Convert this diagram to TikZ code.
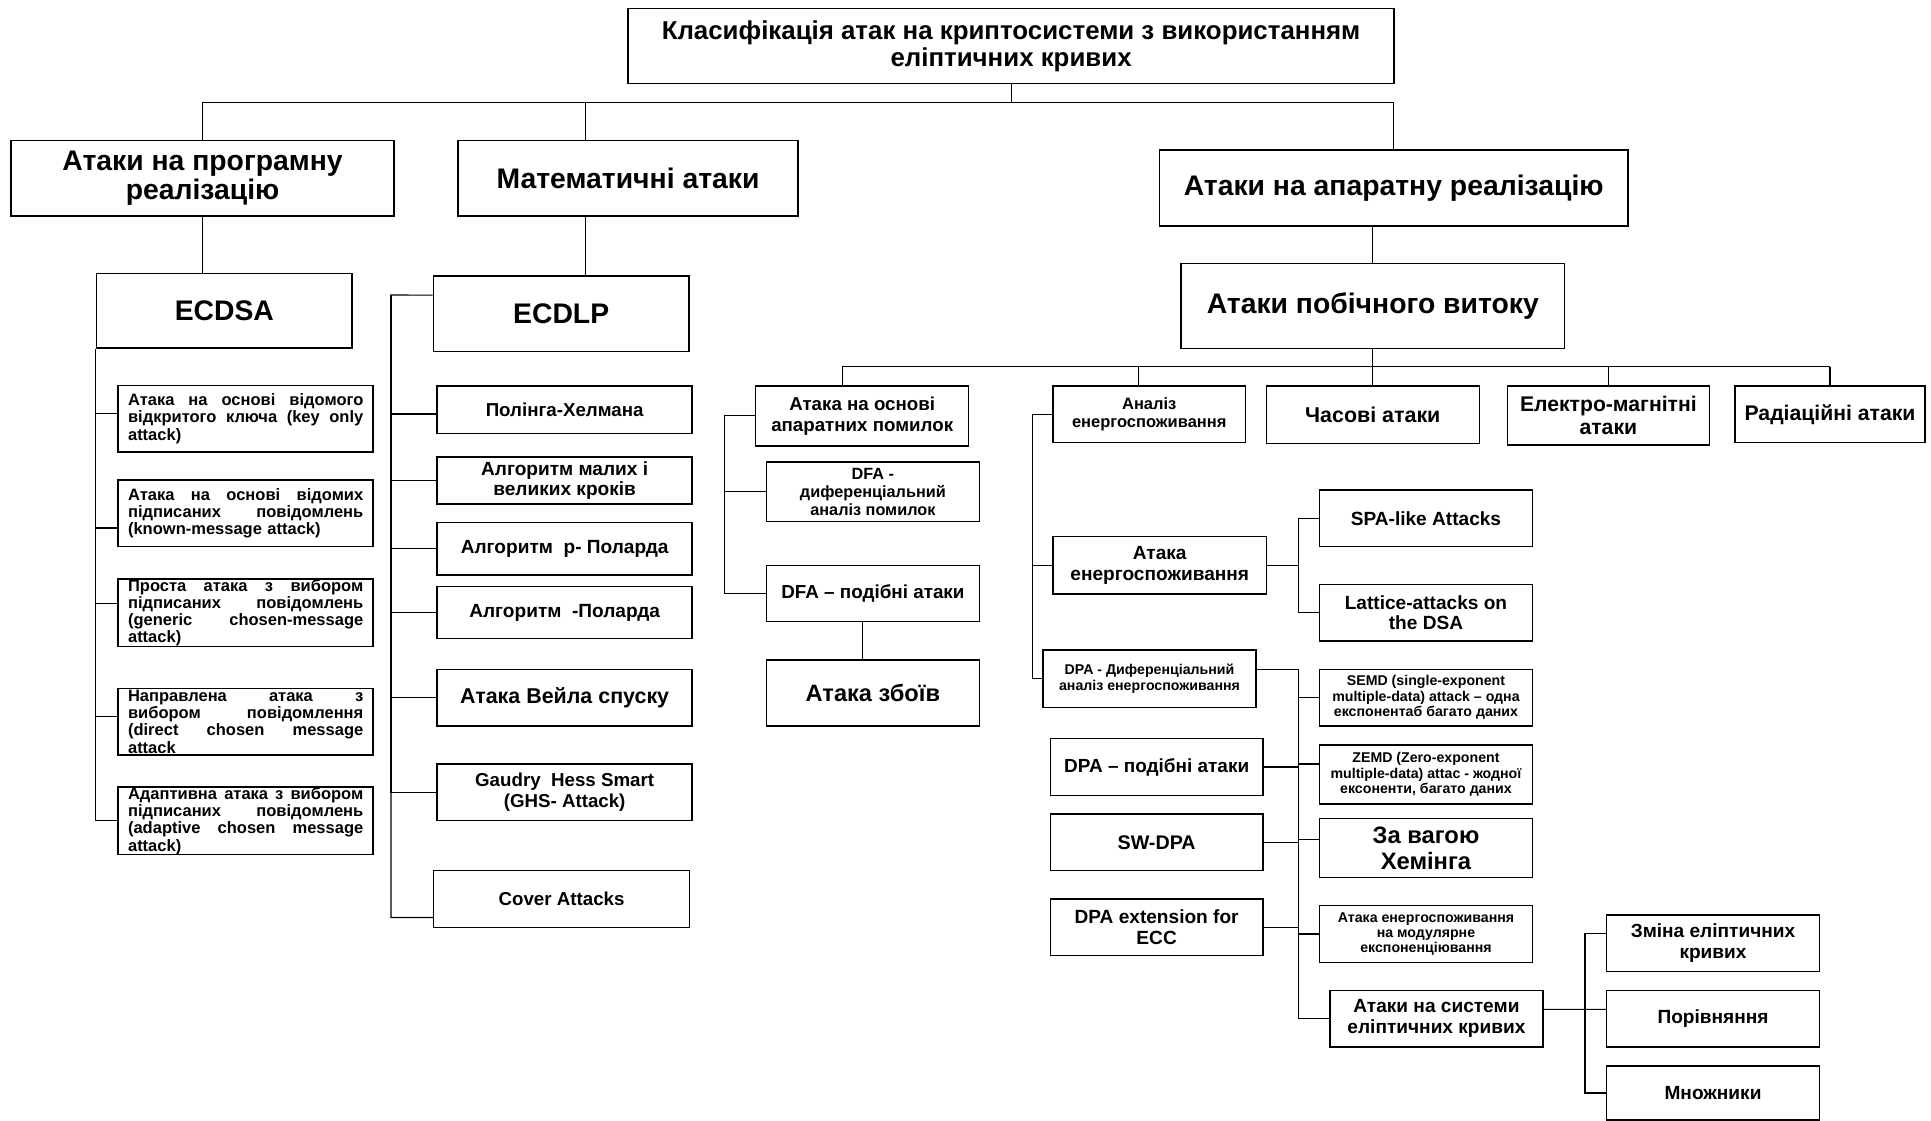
\documentclass[tikz,border=0pt]{standalone}
\usepackage{fontspec}
\setmainfont{Liberation Sans}
\newcommand{\fsz}[2]{\fontsize{#1}{#2}\selectfont\bfseries}
\newcommand{\jl}[1]{{\spaceskip=0pt\xspaceskip=0pt\makebox[191pt][s]{#1}}}

\begin{document}
\begin{tikzpicture}[x=1pt, y=-1pt,
  blk/.style={draw, line width=1.2pt, align=center, inner sep=2pt, font=\fsz{15.5}{17}},
  big/.style={blk, font=\fsz{23}{24}},
  sz/.style 2 args={minimum width=#1pt, minimum height=#2pt},
  jbox/.style={draw, line width=1.2pt, text width=191pt, align=left,
               inner xsep=8pt, inner ysep=0pt, sz={207}{54}, font=\fsz{13.4}{14}},
  link/.style={line width=0.9pt}]

  \useasboundingbox (0,0) rectangle (1568,910);

  %--- Top levels
  \node[blk, sz={622}{61}, font=\fsz{21}{22}] (cls) at (821,37.5)
    {Класифікація атак на криптосистеми з використанням\\еліптичних кривих};
  \node[big, sz={311}{61.5}] (soft) at (164.5,144.7) {Атаки на програмну\\реалізацію};
  \node[big, sz={276}{61.5}] (math) at (510,144.7) {Математичні атаки};
  \node[big, sz={380.5}{61.5}] (hard) at (1131.7,152.7) {Атаки на апаратну реалізацію};
  \node[big, sz={207.5}{60.5}] (ecdsa) at (182.2,252.2) {ECDSA};
  \node[big, sz={207.5}{61.5}] (ecdlp) at (455.7,254.7) {ECDLP};
  \node[big, sz={311.5}{69}] (side) at (1114.7,248.5) {Атаки побічного витоку};

  %--- ECDSA attacks
  \node[jbox] (k1) at (199.5,340)
    {\jl{Атака на основі відомого}\\\jl{відкритого ключа (key only}\\attack)};
  \node[jbox] (k2) at (199.5,416.7)
    {\jl{Атака на основі відомих}\\\jl{підписаних повідомлень}\\(known-message attack)};
  \node[jbox] (k3) at (199.5,497.5)
    {\jl{Проста атака з вибором}\\\jl{підписаних повідомлень}\\\jl{(generic chosen-message}\\attack)};
  \node[jbox] (k4) at (199.5,586)
    {\jl{Направлена атака з}\\\jl{вибором повідомлення}\\\jl{(direct chosen message}\\attack};
  \node[jbox, sz={207}{55}] (k5) at (199.5,666.5)
    {\jl{Адаптивна атака з вибором}\\\jl{підписаних повідомлень}\\\jl{(adaptive chosen message}\\attack)};

  %--- ECDLP attacks
  \node[blk, sz={207}{38.5}, font=\fsz{15.2}{17}] (m1) at (458.5,332.7) {Полінга-Хелмана};
  \node[blk, sz={207}{38.3}, font=\fsz{15.5}{16}] (m2) at (458.5,390.2) {Алгоритм малих і\\великих кроків};
  \node[blk, sz={207}{42.6}] (m3) at (458.5,445.7) {Алгоритм~~р- Поларда};
  \node[blk, sz={207}{42}] (m4) at (458.5,497.4) {Алгоритм~~-Поларда};
  \node[blk, sz={207}{46}, font=\fsz{17.4}{19}] (m5) at (458.5,566.5) {Атака Вейла спуску};
  \node[blk, sz={207}{46}, font=\fsz{15.2}{17}] (m6) at (458.5,643.4) {Gaudry~~Hess Smart\\(GHS- Attack)};
  \node[blk, sz={208}{46}, font=\fsz{15.2}{17}] (m7) at (456,730) {Cover Attacks};

  %--- Side channel row
  \node[blk, sz={173}{48.6}, font=\fsz{15.2}{17}] (f0) at (700.1,337.7) {Атака на основі\\апаратних помилок};
  \node[blk, sz={156}{46}, font=\fsz{13.4}{15}] (p0) at (933.2,336.5) {Аналіз\\енергоспоживання};
  \node[blk, sz={173}{46.5}, font=\fsz{17.4}{19}] (t) at (1114.7,336.7) {Часові атаки};
  \node[blk, sz={164}{48}, font=\fsz{17.2}{19}] (em) at (1306,337.5) {Електро-магнітні\\атаки};
  \node[blk, sz={154}{46}, font=\fsz{17.2}{19}] (rad) at (1486,336.5) {Радіаційні атаки};

  %--- Fault attacks
  \node[blk, sz={172.7}{48.6}, font=\fsz{13.2}{14.5}] (f1) at (708.8,399.3) {DFA -\\диференціальний\\аналіз помилок};
  \node[blk, sz={172.7}{45.5}, font=\fsz{15.3}{17}] (f2) at (708.8,482) {DFA – подібні атаки};
  \node[blk, sz={172.7}{53.5}, font=\fsz{19.2}{21}] (f3) at (708.8,562.7) {Атака збоїв};

  %--- Power analysis
  \node[blk, sz={173}{46.5}] (p1) at (941.7,459) {Атака\\енергоспоживання};
  \node[blk, sz={172.6}{46.6}, font=\fsz{11.5}{12.5}] (p2) at (933.4,551.1) {DPA - Диференціальний\\аналіз енергоспоживання};
  \node[blk, sz={173.2}{46}] (s1) at (1157.9,420.9) {SPA-like Attacks};
  \node[blk, sz={173.2}{46}] (s2) at (1157.9,497.5) {Lattice-attacks on\\the DSA};

  \node[blk, sz={172.5}{46}, font=\fsz{15.4}{17}] (q1) at (939.2,622.8) {DPA – подібні атаки};
  \node[blk, sz={172.5}{46}, font=\fsz{16}{17}] (q2) at (939.2,684) {SW-DPA};
  \node[blk, sz={172.5}{46}] (q3) at (939.2,753) {DPA extension for\\ECC};

  \node[blk, sz={173.2}{46}, font=\fsz{11.5}{12.5}] (d1) at (1157.9,566.5)
    {SEMD (single-exponent\\multiple-data) attack – одна\\експонентаб багато даних};
  \node[blk, sz={173.2}{48}, font=\fsz{11.5}{12.5}] (d2) at (1157.9,629)
    {ZEMD (Zero-exponent\\multiple-data) attac - жодної\\ексоненти, багато даних};
  \node[blk, sz={173.2}{48}, font=\fsz{19.3}{21}] (d3) at (1157.9,688.5) {За вагою\\Хемінга};
  \node[blk, sz={173.2}{46}, font=\fsz{11.5}{12.5}] (d4) at (1157.9,758.4)
    {Атака енергоспоживання\\на модулярне\\експоненціювання};
  \node[blk, sz={172.8}{46}] (d5) at (1166.4,827.3) {Атаки на системи\\еліптичних кривих};

  %--- Elliptic curve systems
  \node[blk, sz={172.7}{46}] (e1) at (1391,766) {Зміна еліптичних\\кривих};
  \node[blk, sz={172.7}{45.6}] (e2) at (1391,827.2) {Порівняння};
  \node[blk, sz={172.7}{44}] (e3) at (1391,887.5) {Множники};

  %--- Connectors, top part
  \coordinate (bus0) at (821,83.4);
  \coordinate (mx) at (475.6,83.4);
  \draw[link] (cls.south) -- (bus0);
  \draw[link] (soft.north) |- (bus0) -| (hard.north);
  \draw[link] (mx) -- (mx |- math.north);
  \draw[link] (mx |- math.south) -- (mx |- ecdlp.north);
  \draw[link] (soft.south) -- (soft.south |- ecdsa.north);
  \draw[link] (side.north |- hard.south) -- (side.north);

  %--- ECDSA and ECDLP branches
  \foreach \n/\s in {k1/4,k2/-12,k3/7.6,k4/4,k5/0}
    \draw[link] ([yshift=\s pt]\n.west) -| (ecdsa.south west);
  \coordinate (mtop) at (317.5,239.5);
  \draw[link] ([yshift=15pt]ecdlp.west) -- (mtop) |- ([yshift=-15pt]m7.west);
  \foreach \n/\s in {m1/-3.5,m2/0,m3/0,m4/0,m5/0,m6/0}
    \draw[link] ([yshift=\s pt]\n.west) -| (mtop);

  %--- Side channel bus
  \coordinate (bus1) at (1114.7,297.7);
  \coordinate (fx) at (684,297.7);
  \coordinate (px) at (924.8,297.7);
  \draw[link] (side.south) -- (bus1);
  \draw[link] (fx |- f0.north) -- (fx) -- (rad.north |- bus1);
  \draw[link] (px) -- (px |- p0.north);
  \foreach \n in {t,em,rad}
    \draw[link] (\n.north) -- (\n.north |- bus1);

  %--- Fault branch
  \coordinate (fv) at (588,337.7);
  \draw[link] (f0.west) -- (fv) |- (f2.west);
  \draw[link] (f1.west) -| (fv);
  \draw[link] ([xshift=-8.8pt]f2.south) -- ([xshift=-8.8pt]f3.north);

  %--- Power branch
  \coordinate (pv) at (838.4,336.5);
  \draw[link] (p0.west) -- (pv) |- (p2.west);
  \draw[link] (p1.west) -| (pv);
  \coordinate (sv) at (1054.2,459);
  \draw[link] (p1.east) -- (sv);
  \draw[link] (s1.west) -| (sv);
  \draw[link] (s2.west) -| (sv);

  %--- DPA branch
  \coordinate (dv) at (1054.2,543.5);
  \draw[link] ([yshift=7.6pt]p2.east) -- (dv) |- (d5.west);
  \foreach \n/\s in {d1/0,d2/8.6,d3/7,d4/0}
    \draw[link] ([yshift=\s pt]\n.west) -| (dv);
  \foreach \n in {q1,q2,q3}
    \draw[link] (\n.east) -| (dv);

  %--- Elliptic curve branch
  \coordinate (ev) at (1287,819.6);
  \draw[link] ([yshift=7.7pt]d5.east) -- ([yshift=7.6pt]e2.west);
  \draw[link] ([yshift=8pt]e1.west) -| (ev);
  \draw[link] (e3.west) -| (ev);

\end{tikzpicture}
\end{document}
